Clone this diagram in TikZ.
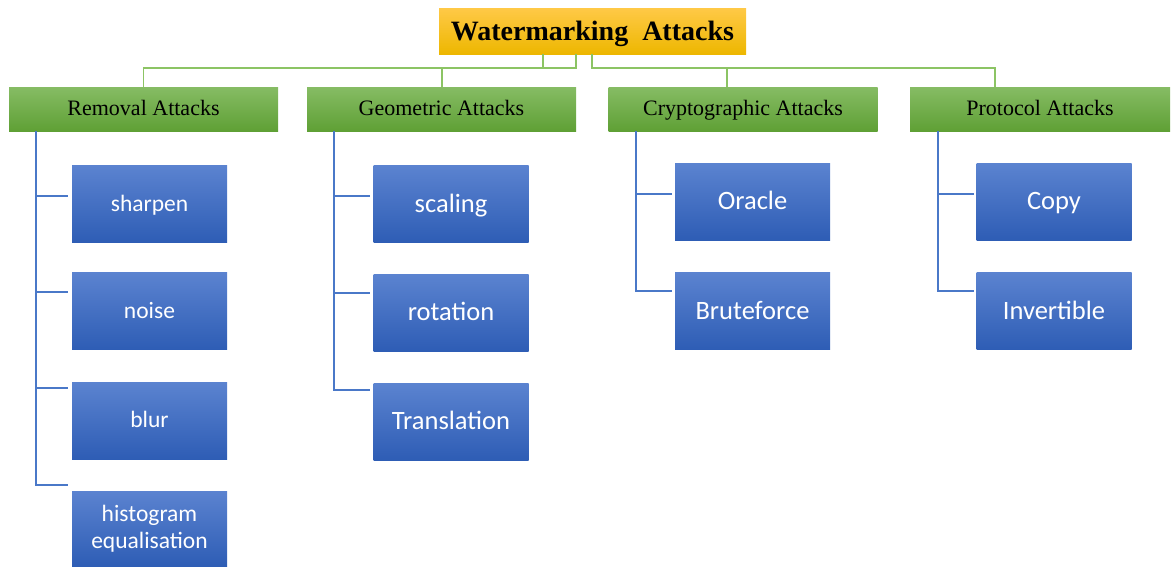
\documentclass[tikz,border=0pt]{standalone}
\usepackage{fontspec}
\setmainfont{Liberation Serif}
\newfontfamily\carlitofont{Carlito}
\definecolor{gtop}{HTML}{86BC64}
\definecolor{gbot}{HTML}{5FA035}
\definecolor{btop}{HTML}{5B83D0}
\definecolor{bbot}{HTML}{2E5DB5}
\definecolor{otop}{HTML}{FFC947}
\definecolor{obot}{HTML}{EDB700}
\definecolor{gline}{HTML}{8CC464}
\definecolor{bline}{HTML}{4A78C8}
\tikzset{
  rootbox/.style={rectangle, top color=otop, bottom color=obot, minimum width=307pt, minimum height=46pt, inner sep=0pt, text height=19pt, text depth=1pt, font=\fontsize{28}{32}\selectfont\bfseries},
  catbox/.style={rectangle, top color=gtop, bottom color=gbot, minimum width=269pt, minimum height=44pt, inner sep=0pt, text height=14pt, text depth=2pt, font=\fontsize{22}{26}\selectfont},
  leafbox/.style={rectangle, top color=btop, bottom color=bbot, minimum width=155pt, minimum height=77pt, inner sep=0pt, text=white, align=center, font=\carlitofont\fontsize{26.5}{30}\selectfont},
  oneline/.style={text height=18pt, text depth=2pt},
  smallone/.style={text height=16pt, text depth=2pt},
  smallleaf/.style={font=\carlitofont\fontsize{23.5}{27}\selectfont},
  gl/.style={draw=gline, line width=1.5pt},
  bl/.style={draw=bline, line width=1.5pt}
}
\begin{document}
\begin{tikzpicture}[x=1pt,y=-1pt]
\useasboundingbox (0,0) rectangle (1171,566);
\node[rootbox] (root) at (592.5,31) {Watermarking\ \ Attacks};
\node[catbox] (rem) at (143.5,109) {Removal Attacks};
\node[catbox] (geo) at (441.5,109) {Geometric Attacks};
\node[catbox] (cry) at (743,109) {Cryptographic Attacks};
\node[catbox, minimum width=260pt] (pro) at (1040,109) {Protocol Attacks};
% top connectors
\coordinate (r1) at (543,54);
\coordinate (r2) at (576,54);
\coordinate (r3) at (592,54);
\draw[gl] (r1) -- ++(0,14) -| (rem.north);
\draw[gl] (r2) -- ++(0,14) -| (geo.north -| 442,0);
\draw[gl] (r3) -- ++(0,14) -| (cry.north -| 727,0);
\draw[gl] (r3) ++(0,14) -| (pro.north -| 995,0);
% removal leaves
\node[leafbox, smallleaf, smallone] (sh) at (149.5,204) {sharpen};
\node[leafbox, smallleaf, smallone] (no) at (149.5,311) {noise};
\node[leafbox, smallleaf, smallone] (bu) at (149.5,420.5) {blur};
\node[leafbox, smallleaf, minimum height=75pt] (hi) at (149.5,528.5) {histogram\\equalisation};
\coordinate (rl) at (36,131);
\draw[bl] (rl) |- (68,485);
\draw[bl] (36,196) -- (68,196);
\draw[bl] (36,292) -- (68,292);
\draw[bl] (36,388) -- (68,388);
% geometric leaves
\node[leafbox, oneline] (sc) at (451,204) {scaling};
\node[leafbox, oneline] (ro) at (451,312.5) {rotation};
\node[leafbox, oneline] (tr) at (451,421.5) {Translation};
\coordinate (gl0) at (334,131);
\draw[bl] (gl0) |- (370,390);
\draw[bl] (334,196) -- (370,196);
\draw[bl] (334,293) -- (370,293);
% crypto leaves
\node[leafbox, oneline] (or) at (752.5,201.5) {Oracle};
\node[leafbox, oneline] (br) at (752.5,311) {Bruteforce};
\coordinate (cl0) at (636,131);
\draw[bl] (cl0) |- (672,291);
\draw[bl] (636,194) -- (672,194);
% protocol leaves
\node[leafbox, oneline] (co) at (1054,201.5) {Copy};
\node[leafbox, oneline] (in) at (1054,311) {Invertible};
\coordinate (pl0) at (938,131);
\draw[bl] (pl0) |- (974,291);
\draw[bl] (938,194) -- (974,194);
\end{tikzpicture}
\end{document}
